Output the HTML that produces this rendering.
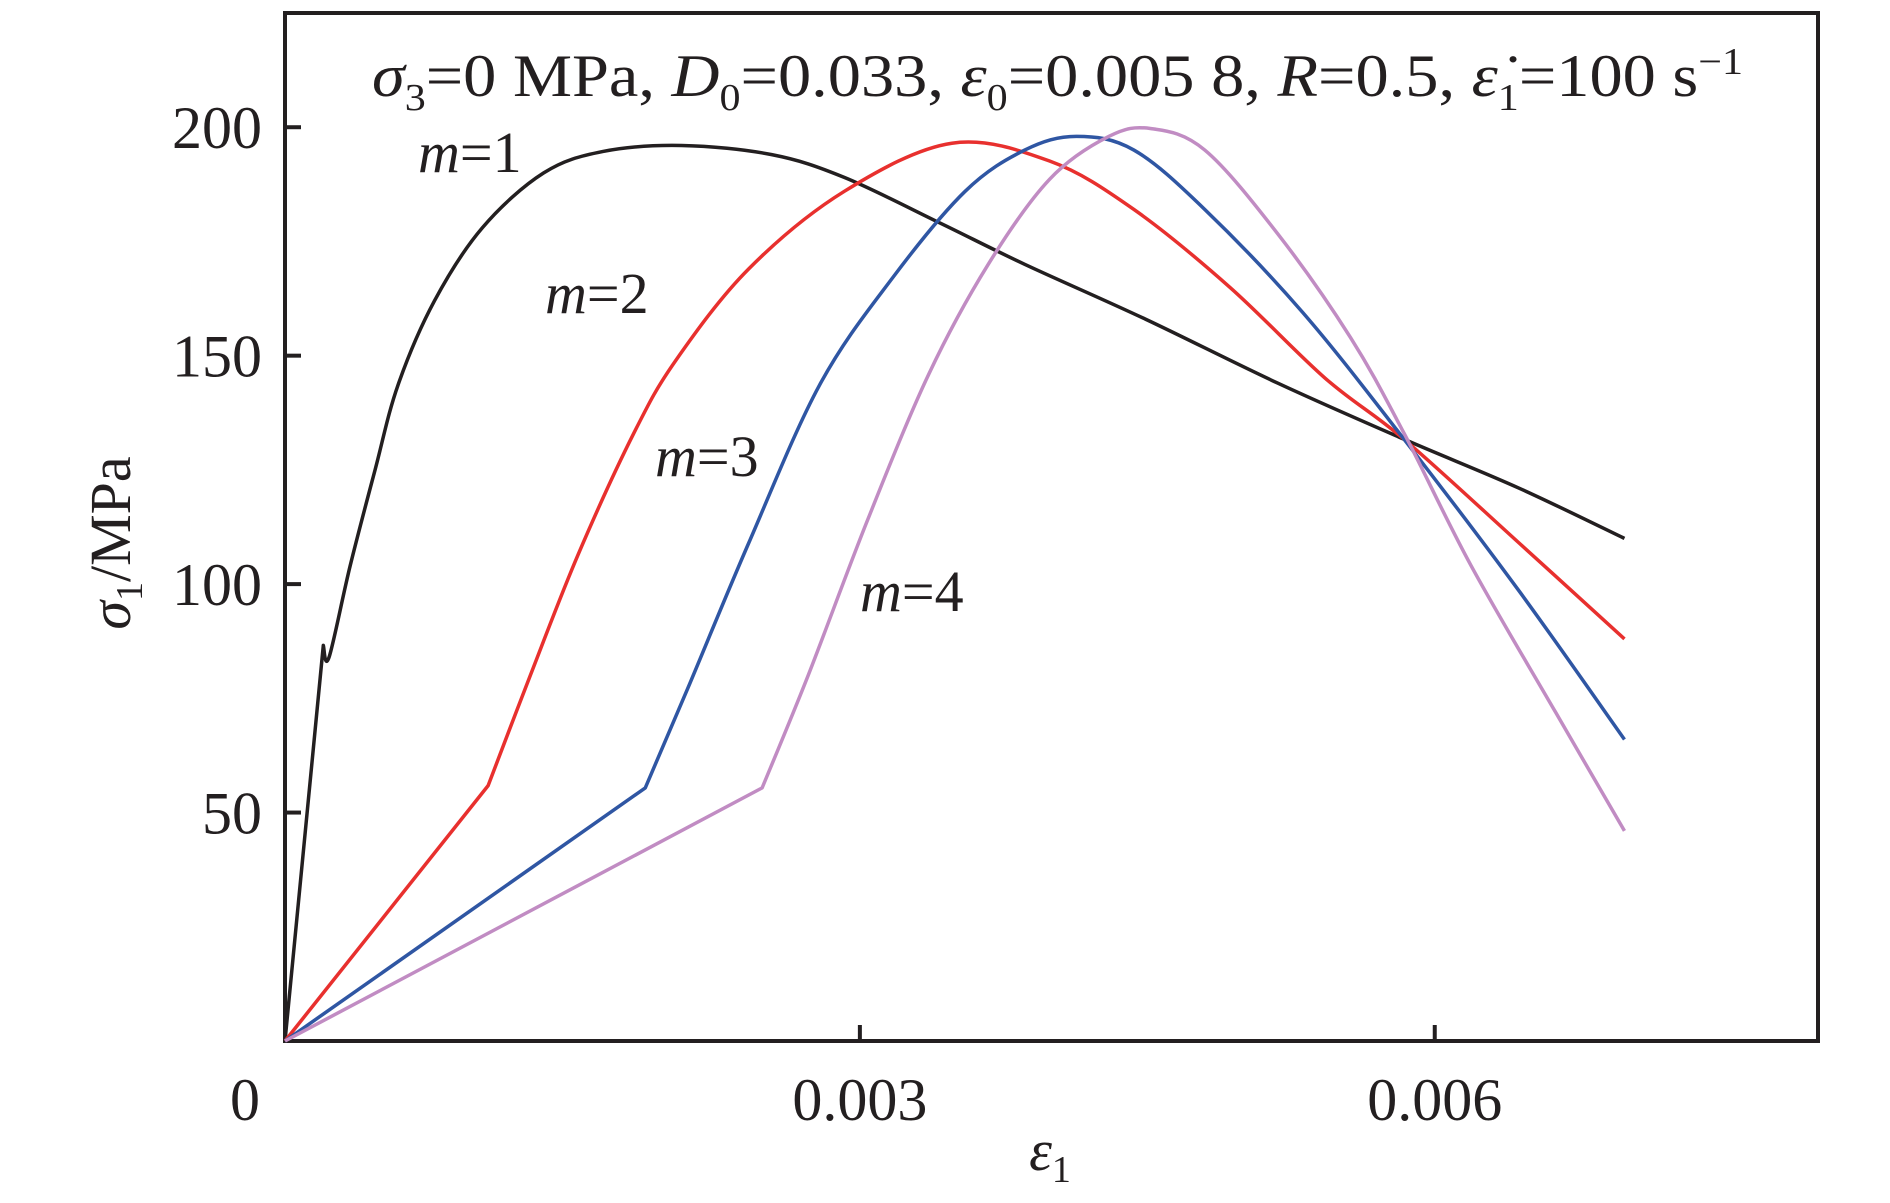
<!DOCTYPE html>
<html><head><meta charset="utf-8"><style>
body{margin:0;background:#fff}
svg{display:block}
text{font-family:"Liberation Serif",serif;fill:#231f20}
</style></head><body>
<svg id="chart" width="1890" height="1203" viewBox="0 0 1890 1203" xmlns="http://www.w3.org/2000/svg">
<g id="axes"></g>
<g id="series"></g>
<g id="labels">
<text x="372" y="96" font-size="60" textLength="1371" lengthAdjust="spacingAndGlyphs"><tspan font-style="italic">σ</tspan><tspan font-size="38" dy="14">3</tspan><tspan dy="-14">=0 MPa, </tspan><tspan font-style="italic">D</tspan><tspan font-size="38" dy="14">0</tspan><tspan dy="-14">=0.033, </tspan><tspan font-style="italic">ε</tspan><tspan font-size="38" dy="14">0</tspan><tspan dy="-14">=0.005 8, </tspan><tspan font-style="italic">R</tspan><tspan>=0.5, </tspan><tspan font-style="italic">ε̇</tspan><tspan font-size="38" dy="14">1</tspan><tspan dy="-14">=100 s</tspan><tspan font-size="38" dy="-22">−1</tspan></text>
<text x="418" y="172" font-size="58"><tspan font-style="italic">m</tspan>=1</text>
<text x="545" y="313" font-size="58"><tspan font-style="italic">m</tspan>=2</text>
<text x="655" y="476" font-size="58"><tspan font-style="italic">m</tspan>=3</text>
<text x="860" y="611" font-size="58"><tspan font-style="italic">m</tspan>=4</text>
<text x="1050" y="1170" font-size="58" text-anchor="middle"><tspan font-style="italic">ε</tspan><tspan font-size="38" dy="12">1</tspan></text>
<text transform="translate(130,543) rotate(-90)" font-size="58" text-anchor="middle"><tspan font-style="italic">σ</tspan><tspan font-size="38" dy="12">1</tspan><tspan dy="-12">/MPa</tspan></text>
</g>
</svg>
<script>
const xTicks=[0.003,0.006];
const xTickLabels=["0.003","0.006"];
const yTicks=[50,100,150,200];
const yTickLabels=["50","100","150","200"];
const seriesNames=["m=1","m=2","m=3","m=4"];
const seriesColors=["#231f20","#e8302e","#2f56a3","#c18cc3"];
const m1X=[0,0.0002,0.00023,0.00034,0.00047,0.00059,0.00078,0.00103,0.00135,0.00166,0.00207,0.00254,0.00292,0.00342,0.00386,0.00449,0.00518,0.00584,0.00644,0.00699];
const m1Y=[0,86.6,84,104,125,143.6,162,178,190,194.7,196,194,189,179,170,158,144,131.7,121,110];
const m2X=[0,0.00106,0.00128,0.00153,0.00182,0.00204,0.00242,0.00292,0.00348,0.00399,0.00443,0.00493,0.00543,0.00584,0.00644,0.00699];
const m2Y=[0,55.9,80,106.5,133,149,169,186,196.5,192.6,182,165,145,131.7,109,88];
const m3X=[0,0.00188,0.0021,0.00242,0.00279,0.00317,0.00355,0.00386,0.00413,0.00443,0.0048,0.00531,0.00584,0.00644,0.00699];
const m3Y=[0,55.4,77,109,143.6,167,186,195,198,195,182,159.5,131.7,98.5,66];
const m4X=[0,0.00249,0.00273,0.00304,0.00336,0.00367,0.00399,0.0043,0.00452,0.0048,0.00518,0.00556,0.00584,0.00619,0.00663,0.00699];
const m4Y=[0,55.4,80,114,146,170,188.6,198,199.7,195,176.7,154,133,104,72,46];

const X0=285,X1=1818,Y0=1041,Y1=13,XMAX=0.008,YMAX=225;
const sx=v=>X0+v/XMAX*(X1-X0);
const sy=v=>Y0-v/YMAX*(Y0-Y1);
const NS="http://www.w3.org/2000/svg";
const axes=document.getElementById('axes');
function mk(tag,attrs,parent){const e=document.createElementNS(NS,tag);for(const k in attrs)e.setAttribute(k,attrs[k]);parent.appendChild(e);return e;}
const frame=mk('rect',{x:X0,y:Y1,width:X1-X0,height:Y0-Y1,fill:'none',stroke:'#231f20','stroke-width':4},axes);


xTicks.forEach((t,i)=>{
  const l=mk('line',{x1:sx(t),x2:sx(t),y1:Y0,y2:Y0-16,stroke:'#231f20','stroke-width':4},axes);
  
  
  const tx=mk('text',{x:sx(t),y:1120,'font-size':60,'text-anchor':'middle'},axes);
  tx.textContent=xTickLabels[i];
  
  
});
const z=mk('text',{x:245,y:1120,'font-size':60,'text-anchor':'middle'},axes);
z.textContent='0';


yTicks.forEach((t,i)=>{
  const l=mk('line',{x1:X0,x2:X0+16,y1:sy(t),y2:sy(t),stroke:'#231f20','stroke-width':4},axes);
  
  
  const tx=mk('text',{x:262,y:sy(t)+21,'font-size':60,'text-anchor':'end'},axes);
  tx.textContent=yTickLabels[i];
  
  
});
const sg=document.getElementById('series');
[[m1X,m1Y],[m2X,m2Y],[m3X,m3Y],[m4X,m4Y]].forEach((s,i)=>{
  const pts=s[0].map((x,j)=>[sx(x),sy(s[1][j])]);
  let d='M'+pts[0][0]+','+pts[0][1]+' L'+pts[1][0]+','+pts[1][1];
  for(let j=1;j<pts.length-1;j++){
    const p0=pts[Math.max(j-1,1)],p1=pts[j],p2=pts[j+1],p3=pts[Math.min(j+2,pts.length-1)];
    const c1=[p1[0]+(p2[0]-p0[0])/6,p1[1]+(p2[1]-p0[1])/6];
    const c2=[p2[0]-(p3[0]-p1[0])/6,p2[1]-(p3[1]-p1[1])/6];
    d+=' C'+c1+' '+c2+' '+p2;
  }
  const p=mk('path',{d:d,fill:'none',stroke:seriesColors[i],'stroke-width':3.5,'stroke-linejoin':'round'},sg);
  
  
});
</script>
</body></html>
